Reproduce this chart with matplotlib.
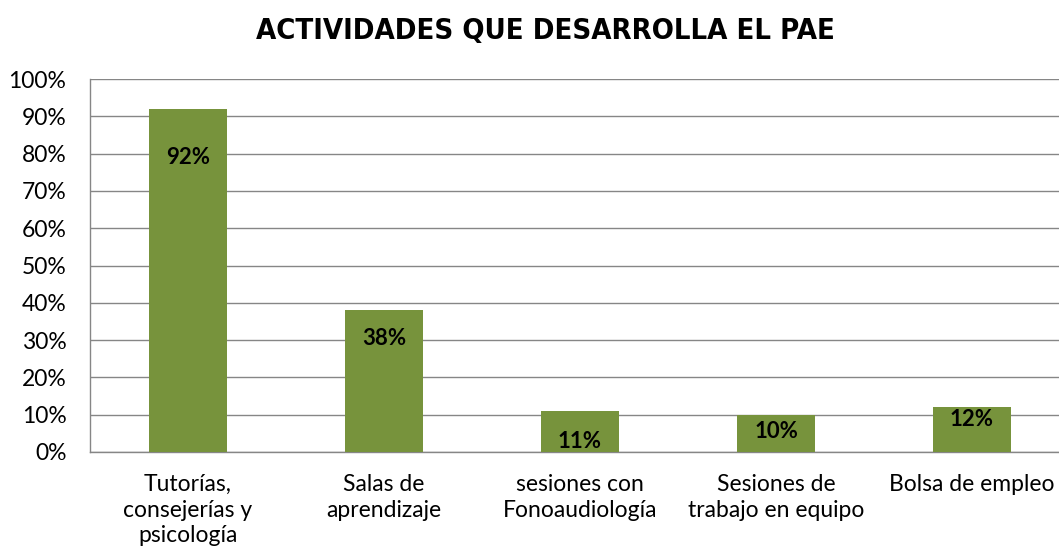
import matplotlib
matplotlib.use("Agg")
import matplotlib.pyplot as plt
from matplotlib.ticker import PercentFormatter

# datos del grafico
categorias = ["Tutorías,\nconsejerías y\npsicología", "Salas de\naprendizaje",
              "sesiones con\nFonoaudiología", "Sesiones de\ntrabajo en equipo",
              "Bolsa de empleo"]
valores = [0.92, 0.38, 0.11, 0.10, 0.12]
etiquetas = ["92%", "38%", "11%", "10%", "12%"]

# desplazamiento de cada etiqueta bajo el borde superior de la barra (pixeles)
bajada_etiqueta = [49, 28, 31, 17, 12]

plt.rcParams['font.family'] = ['Lato', 'DejaVu Sans']

fig = plt.figure(figsize=(10.59, 5.56), dpi=100)
ax = fig.add_axes([90 / 1059, 104 / 556, 980 / 1059, 373 / 556])

x = range(len(categorias))
ax.bar(x, valores, width=0.4, color="#77933C", zorder=3)

for i, (v, t) in enumerate(zip(valores, etiquetas)):
    ax.annotate(t, (i, v), xytext=(0, -bajada_etiqueta[i] * 0.72),
                textcoords="offset points", ha="center", va="center",
                fontsize=16, fontweight="bold", color="black", zorder=4)

ax.set_ylim(0, 1.0)
ax.set_xlim(-0.5, len(categorias) - 0.5)
ax.set_yticks([i / 10 for i in range(11)])
ax.yaxis.set_major_formatter(PercentFormatter(1.0, decimals=0))
ax.set_xticks(list(x))
ax.set_xticklabels(categorias, fontsize=16.5, linespacing=1.27, va="top")
ax.tick_params(axis="y", labelsize=16.5, length=0, pad=17)
ax.tick_params(axis="x", length=0, pad=16)

ax.grid(axis="y", color="#868686", linewidth=1, zorder=0)
for s in ["top", "right"]:
    ax.spines[s].set_visible(False)
for s in ["left", "bottom"]:
    ax.spines[s].set_color("#868686")
    ax.spines[s].set_linewidth(1)

fig.text(545 / 1059, 1 - 31 / 556, "ACTIVIDADES QUE DESARROLLA EL PAE",
         ha="center", va="center", fontsize=21, fontweight="bold",
         fontstretch="condensed", family=["DejaVu Sans"])

fig.savefig("out.png", dpi=100)
